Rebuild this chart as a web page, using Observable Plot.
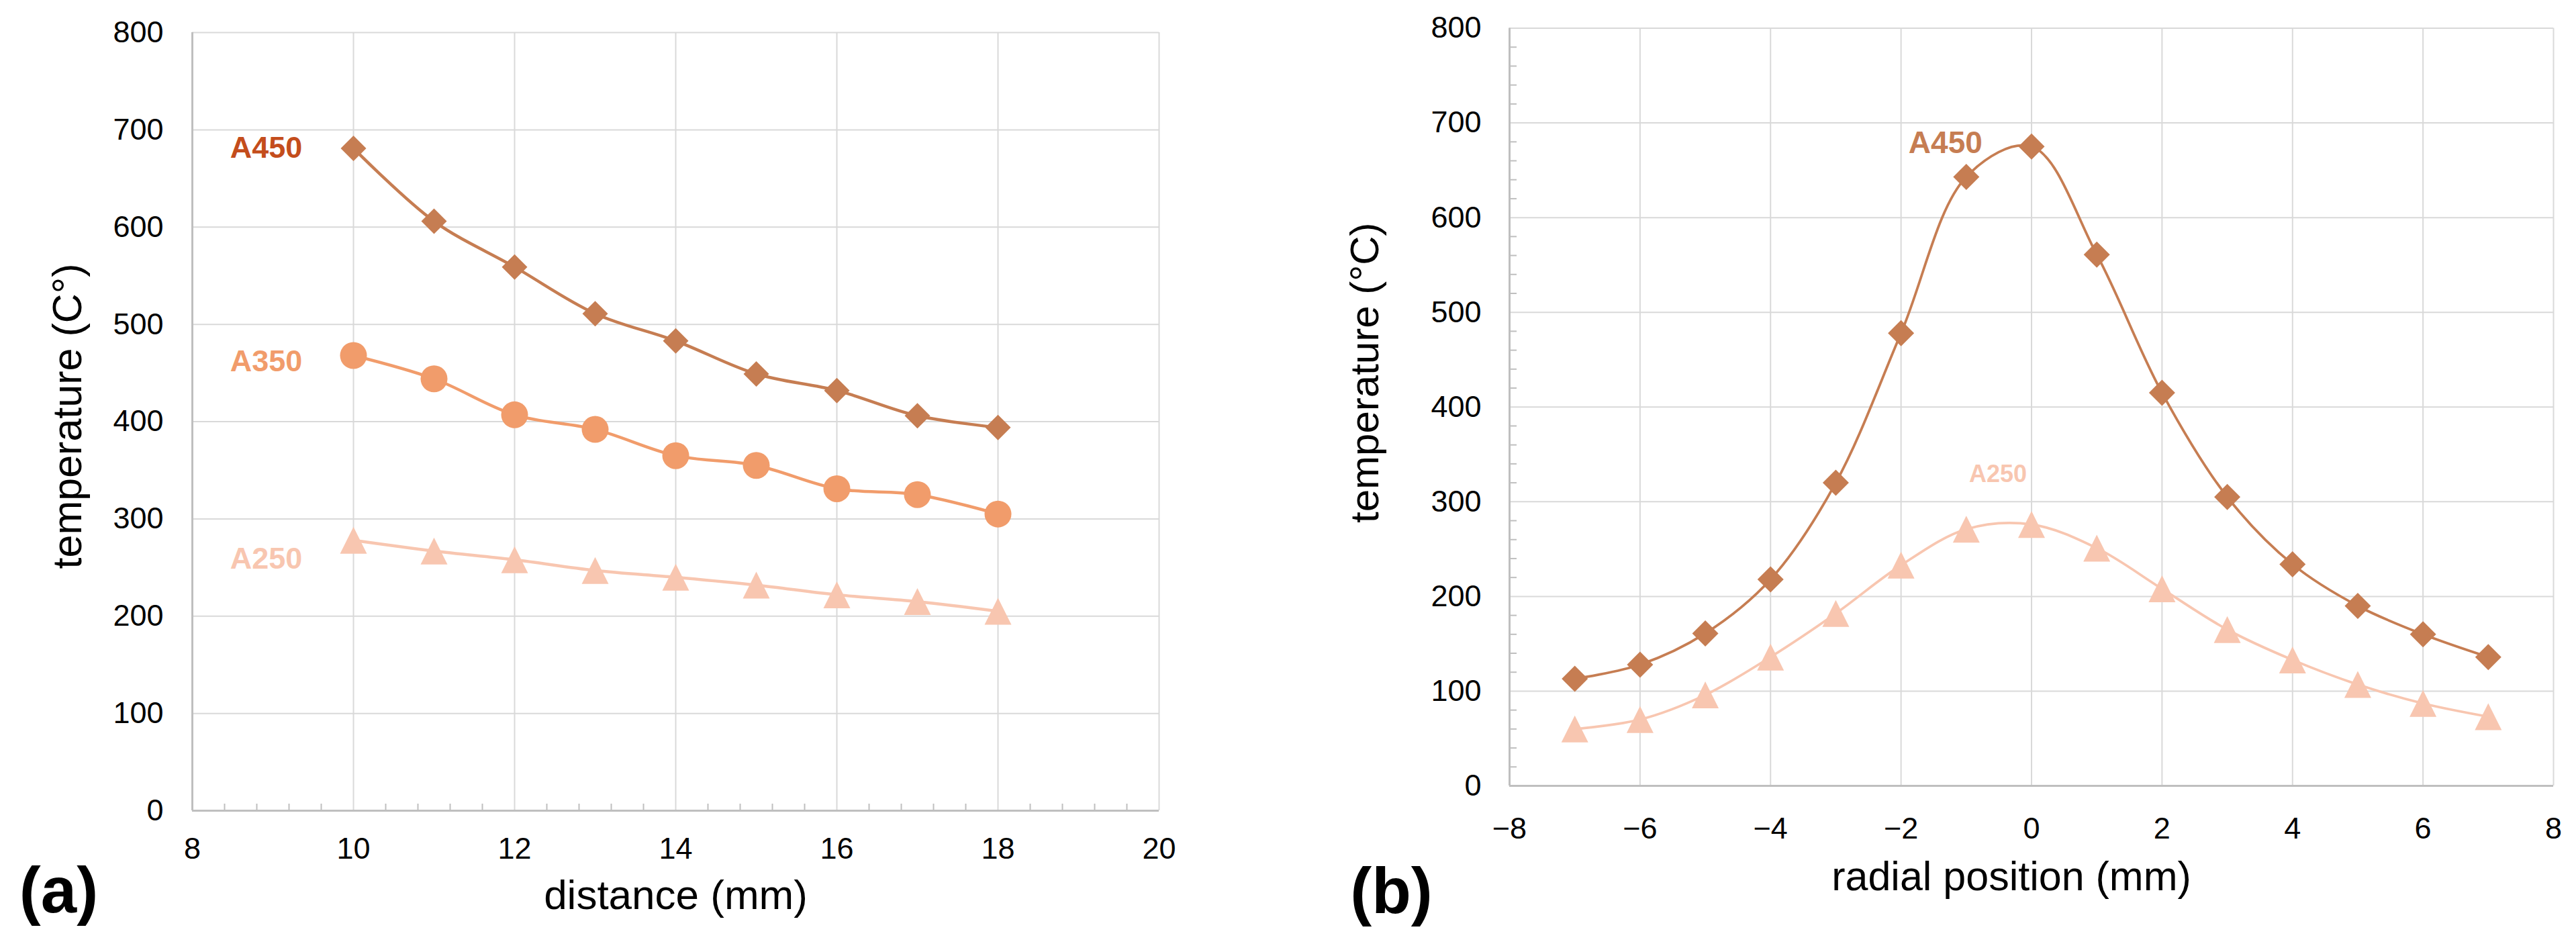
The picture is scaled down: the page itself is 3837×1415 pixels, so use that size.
<!DOCTYPE html>
<html>
<head>
<meta charset="utf-8">
<script src="https://cdn.jsdelivr.net/npm/d3@7"></script>
<script src="https://cdn.jsdelivr.net/npm/@observablehq/plot@0.6"></script>
<style>
  html, body { margin: 0; padding: 0; background: #ffffff; }
  #chart { position: relative; width: 3837px; height: 1415px; background: #ffffff; }
  #chart svg { position: absolute; top: 0; }
</style>
</head>
<body>
<div id="chart"></div>
<script>
// ---------- data: panel (a) ----------
const distance = [10, 11, 12, 13, 14, 15, 16, 17, 18];
const a450Dist = [681, 606, 559, 511, 483, 449, 432, 406, 394];
const a350Dist = [468, 444, 407, 392, 365, 355, 331, 325, 305];
const a250Dist = [278, 267, 258, 247, 240, 232, 222, 215, 205];

// ---------- data: panel (b) ----------
const radial   = [-7, -6, -5, -4, -3, -2, -1, 0, 1, 2, 3, 4, 5, 6, 7];
const a450Rad  = [113, 128, 161, 218, 320, 478, 643, 675, 561, 415, 305, 234, 190, 160, 136];
const a250Rad  = [60, 70, 96, 136, 182, 233, 271, 276, 251, 208, 165, 133, 107, 87, 73];

// ---------- tick labels ----------
const xTicksA = [8, 10, 12, 14, 16, 18, 20];
const xTicksB = [-8, -6, -4, -2, 0, 2, 4, 6, 8];
const yTicks  = [0, 100, 200, 300, 400, 500, 600, 700, 800];
const seriesNamesA = ["A450", "A350", "A250"];
const seriesNamesB = ["A450", "A250"];

// ---------- styles ----------
const C450 = "#c67d52", C350 = "#f19c6b", C250 = "#f8c6b0";
const C450lab = "#c44d1c";
const GRID = "#d9d9d9", AXIS = "#bfbfbf";
const FONT = "'Liberation Sans', Arial, sans-serif";
const fmt = d3.format("d");

const diamond = {draw(ctx, size) { const r = Math.sqrt(size / Math.PI);
  ctx.moveTo(0, -r); ctx.lineTo(r, 0); ctx.lineTo(0, r); ctx.lineTo(-r, 0); ctx.closePath(); }};
const triangle = {draw(ctx, size) { const r = Math.sqrt(size / Math.PI);
  ctx.moveTo(0, -r); ctx.lineTo(r, r); ctx.lineTo(-r, r); ctx.closePath(); }};

const rows = (xs, ys) => xs.map((x, i) => ({x, y: ys[i]}));
const dA450 = rows(distance, a450Dist), dA350 = rows(distance, a350Dist), dA250 = rows(distance, a250Dist);
const dB450 = rows(radial, a450Rad), dB250 = rows(radial, a250Rad);

// ---------- panel (a) ----------
const minorA = d3.range(8.4, 20, 0.4).filter(v => Math.abs(v / 2 - Math.round(v / 2)) > 1e-6);
const plotA = Plot.plot({
  width: 1900, height: 1415,
  marginLeft: 286, marginRight: 174, marginTop: 48, marginBottom: 208,
  style: {fontFamily: FONT, fontSize: "45px", color: "black", background: "white", overflow: "visible"},
  x: {domain: [8, 20], axis: null},
  y: {domain: [0, 800], axis: null},
  marks: [
    Plot.gridX(xTicksA, {stroke: GRID, strokeOpacity: 1, strokeWidth: 2}),
    Plot.gridY(yTicks, {stroke: GRID, strokeOpacity: 1, strokeWidth: 2}),
    Plot.ruleX([8], {stroke: AXIS, strokeWidth: 3}),
    Plot.ruleY([0], {stroke: AXIS, strokeWidth: 3}),
    Plot.axisX(minorA, {tickSize: -10, tickFormat: () => "", label: null, stroke: AXIS, strokeWidth: 2}),
    Plot.axisX(xTicksA, {tickSize: 0, tickPadding: 40, fontSize: 45, tickFormat: fmt, label: null}),
    Plot.axisY(yTicks, {tickSize: 0, tickPadding: 43, fontSize: 45, tickFormat: fmt, label: null}),
    Plot.line(dA450, {x: "x", y: "y", stroke: C450, strokeWidth: 4.5, curve: "catmull-rom"}),
    Plot.line(dA350, {x: "x", y: "y", stroke: C350, strokeWidth: 4.5, curve: "catmull-rom"}),
    Plot.line(dA250, {x: "x", y: "y", stroke: C250, strokeWidth: 4.5, curve: "catmull-rom"}),
    Plot.dot(dA450, {x: "x", y: "y", fill: C450, symbol: diamond, r: 19}),
    Plot.dot(dA350, {x: "x", y: "y", fill: C350, symbol: "circle", r: 20}),
    Plot.dot(dA250, {x: "x", y: "y", fill: C250, symbol: triangle, r: 20}),
    Plot.text([dA450[0]], {x: "x", y: "y", text: () => seriesNamesA[0], dx: -130, dy: 0, fill: C450lab, fontSize: 45, fontWeight: "bold", textAnchor: "middle", lineAnchor: "middle"}),
    Plot.text([dA350[0]], {x: "x", y: "y", text: () => seriesNamesA[1], dx: -130, dy: 9, fill: C350, fontSize: 45, fontWeight: "bold", textAnchor: "middle", lineAnchor: "middle"}),
    Plot.text([dA250[0]], {x: "x", y: "y", text: () => seriesNamesA[2], dx: -130, dy: 28, fill: C250, fontSize: 45, fontWeight: "bold", textAnchor: "middle", lineAnchor: "middle"}),
    Plot.text(["distance (mm)"], {text: d => d, frameAnchor: "bottom", dy: 146, fontSize: 62, textAnchor: "middle", lineAnchor: "bottom"}),
    Plot.text(["temperature (C°)"], {text: d => d, frameAnchor: "left", rotate: -90, dx: -166, dy: -8, fontSize: 61, textAnchor: "middle", lineAnchor: "bottom"}),
    Plot.text(["(a)"], {text: d => d, frameAnchor: "bottom-left", dx: -199, dy: 151, fontSize: 96, fontWeight: "bold", textAnchor: "middle", lineAnchor: "bottom"})
  ]
});
plotA.style.left = "0px";

// ---------- panel (b) ----------
const minorB = d3.range(20, 800, 20).filter(v => v % 100 !== 0);
const plotB = Plot.plot({
  width: 1937, height: 1415,
  marginLeft: 348, marginRight: 34, marginTop: 41.5, marginBottom: 245,
  style: {fontFamily: FONT, fontSize: "45px", color: "black", background: "white", overflow: "visible"},
  x: {domain: [-8, 8], axis: null},
  y: {domain: [0, 800], axis: null},
  marks: [
    Plot.gridX(xTicksB, {stroke: GRID, strokeOpacity: 1, strokeWidth: 2}),
    Plot.gridY(yTicks, {stroke: GRID, strokeOpacity: 1, strokeWidth: 2}),
    Plot.ruleX([-8], {stroke: AXIS, strokeWidth: 3}),
    Plot.ruleY([0], {stroke: AXIS, strokeWidth: 3}),
    Plot.axisY(minorB, {tickSize: -11, tickFormat: () => "", label: null, stroke: AXIS, strokeWidth: 2}),
    Plot.axisX(xTicksB, {tickSize: 0, tickPadding: 47, fontSize: 45, tickFormat: fmt, label: null}),
    Plot.axisY(yTicks, {tickSize: 0, tickPadding: 42, fontSize: 45, tickFormat: fmt, label: null}),
    Plot.line(dB450, {x: "x", y: "y", stroke: C450, strokeWidth: 3.75, curve: "catmull-rom"}),
    Plot.line(dB250, {x: "x", y: "y", stroke: C250, strokeWidth: 3.75, curve: "catmull-rom"}),
    Plot.dot(dB450, {x: "x", y: "y", fill: C450, symbol: diamond, r: 19.5}),
    Plot.dot(dB250, {x: "x", y: "y", fill: C250, symbol: triangle, r: 20}),
    Plot.text([dB450[6]], {x: "x", y: "y", text: () => seriesNamesB[0], dx: -31, dy: -50, fill: C450, fontSize: 46, fontWeight: "bold", textAnchor: "middle", lineAnchor: "middle"}),
    Plot.text([dB250[7]], {x: "x", y: "y", text: () => seriesNamesB[1], dx: -50, dy: -75, fill: C250, fontSize: 36, fontWeight: "bold", textAnchor: "middle", lineAnchor: "middle"}),
    Plot.text(["radial position (mm)"], {text: d => d, frameAnchor: "bottom", dx: -30, dy: 155, fontSize: 61, textAnchor: "middle", lineAnchor: "bottom"}),
    Plot.text(["temperature (°C)"], {text: d => d, frameAnchor: "left", rotate: -90, dx: -196, dy: -51, fontSize: 60, textAnchor: "middle", lineAnchor: "bottom"}),
    Plot.text(["(b)"], {text: d => d, frameAnchor: "bottom-left", dx: -176, dy: 189, fontSize: 96, fontWeight: "bold", textAnchor: "middle", lineAnchor: "bottom"})
  ]
});
plotB.style.left = "1900px";

const chart = document.getElementById("chart");
chart.appendChild(plotA);
chart.appendChild(plotB);
</script>
</body>
</html>
